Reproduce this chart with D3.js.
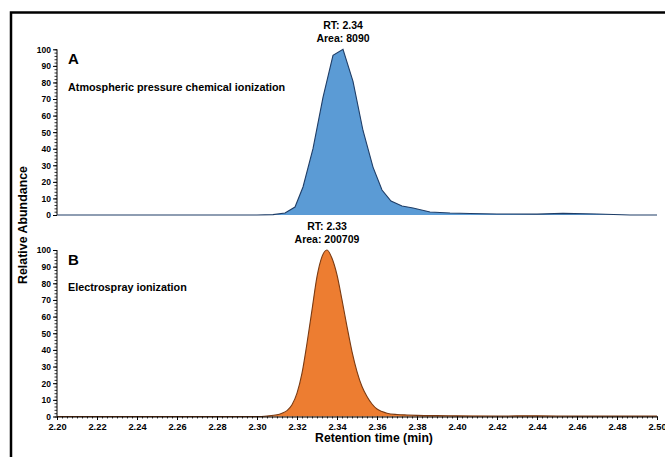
<!DOCTYPE html>
<html><head><meta charset="utf-8">
<script src="https://cdn.jsdelivr.net/npm/d3@7"></script>
<style>body{margin:0;background:#fff}svg{display:block}text{font-family:"Liberation Sans",Arial,sans-serif;font-weight:bold;fill:#000}</style>
</head><body>
<script>
// ---- data ----
const apciTimes  = [2.20,2.30,2.308,2.314,2.319,2.323,2.328,2.333,2.338,2.343,2.348,2.353,2.358,2.3625,2.367,2.3725,2.378,2.3865,2.3965,2.4065,2.42,2.44,2.453,2.47,2.4865,2.50];
const apciValues = [0,0,0.2,1.2,4.8,16.9,40,71,96.4,100,80.7,51,28.9,15.1,8.4,5.4,4.2,1.8,1.2,0.9,0.6,0.5,1.0,0.6,0,0];
const esiTimes  = [2.20,2.30,2.305,2.31,2.3125,2.315,2.3175,2.32,2.3225,2.325,2.3275,2.33,2.3325,2.335,2.3375,2.34,2.3425,2.345,2.3475,2.35,2.3525,2.355,2.3575,2.36,2.3625,2.365,2.37,2.375,2.38,2.39,2.40,2.42,2.44,2.46,2.50];
const esiValues = [0,0,0.3,1,2,3.5,7,14,26,44,64,84,96,100,95,85,70,54,39,27,18,12,7.5,4.5,3,2,1.2,0.9,0.7,0.5,0.4,0.3,0.4,0.2,0.2];
const yTicks = [0,10,20,30,40,50,60,70,80,90,100];
const xTickLabels = ["2.20","2.22","2.24","2.26","2.28","2.30","2.32","2.34","2.36","2.38","2.40","2.42","2.44","2.46","2.48","2.50"];
const panels = [
  {letter:"A", name:"Atmospheric pressure chemical ionization", rt:"RT: 2.34", area:"Area: 8090", t:apciTimes, v:apciValues, fill:"#5b9bd5", stroke:"#1f3d66", curve:d3.curveLinear},
  {letter:"B", name:"Electrospray ionization", rt:"RT: 2.33", area:"Area: 200709", t:esiTimes, v:esiValues, fill:"#ed7d31", stroke:"#7a3a12", curve:d3.curveMonotoneX}
];

const W=665,H=457;
const svg=d3.select("body").append("svg").attr("width",W).attr("height",H);
svg.append("rect").attr("x",11).attr("y",12.5).attr("width",700).attr("height",500).attr("fill","none").attr("stroke","#000").attr("stroke-width",2.5);

const x=d3.scaleLinear().domain([2.20,2.50]).range([57,657]);
const layout=[{top:49.3,bottom:215},{top:250,bottom:416.5}];

panels.forEach((p,i)=>{
  const L=layout[i];
  const y=d3.scaleLinear().domain([0,100]).range([L.bottom,L.top]);
  const data=p.t.map((t,j)=>({t,v:p.v[j]}));
  const area=d3.area().x(d=>x(d.t)).y0(y(0)).y1(d=>y(d.v)).curve(p.curve);
  const line=d3.line().x(d=>x(d.t)).y(d=>y(d.v)).curve(p.curve);
  const g=svg.append("g");
  g.append("g").attr("transform",`translate(${x(2.20)},0)`)
    .call(d3.axisLeft(y).tickValues(d3.range(0,101,2)).tickSize(2.5).tickFormat(""))
    .call(a=>a.select(".domain").remove()).selectAll("line").attr("stroke","#000").attr("stroke-width",0.8);
  g.append("g").attr("transform",`translate(${x(2.20)},0)`)
    .call(d3.axisLeft(y).tickValues(yTicks).tickSize(4).tickPadding(2).tickFormat(d3.format("d")))
    .call(a=>{a.select(".domain").attr("stroke","#000").attr("d",`M0,${L.bottom}V${L.top}`);
      a.selectAll("line").attr("stroke","#000");
      a.selectAll("text").style("font-size","8.5px").attr("dy","0.35em");});
  if(i===1){
    const xa=svg.append("g").attr("transform",`translate(0,${L.bottom})`);
    xa.call(d3.axisBottom(x).tickValues(d3.range(0,121).map(k=>2.20+k*0.0025)).tickSize(2).tickFormat(""))
      .call(a=>a.select(".domain").remove()).selectAll("line").attr("stroke","#000").attr("stroke-width",0.8);
    const xb=svg.append("g").attr("transform",`translate(0,${L.bottom})`);
    xb.call(d3.axisBottom(x).tickValues(xTickLabels.map(Number)).tickSize(3.5).tickPadding(3).tickFormat((d,k)=>xTickLabels[k]))
      .call(a=>{a.select(".domain").attr("stroke","#000");
        a.selectAll("line").attr("stroke","#000");
        a.selectAll("text").style("font-size","9.3px");});
  }
  g.append("path").datum(data).attr("d",area).attr("fill",p.fill);
  g.append("path").datum(data).attr("d",line).attr("fill","none").attr("stroke",p.stroke).attr("stroke-width",1.1);
  g.append("text").attr("x",68).attr("y",y(94)+5).style("font-size","15px").text(p.letter);
  g.append("text").attr("x",68).attr("y",y(77.5)+4).style("font-size","10.8px").text(p.name);
  const peakIdx=d3.maxIndex(p.v);
  const px=x(p.t[peakIdx]);
  g.append("text").attr("x",px).attr("y",L.top-20).attr("text-anchor","middle").style("font-size","10.5px").text(p.rt);
  g.append("text").attr("x",px).attr("y",L.top-7).attr("text-anchor","middle").style("font-size","10.5px").text(p.area);
});

svg.append("text").attr("x",374).attr("y",442).attr("text-anchor","middle").style("font-size","12.2px").text("Retention time (min)");
svg.append("text").attr("transform","translate(27,225) rotate(-90)").attr("text-anchor","middle").style("font-size","12.4px").text("Relative Abundance");
</script>
</body></html>
